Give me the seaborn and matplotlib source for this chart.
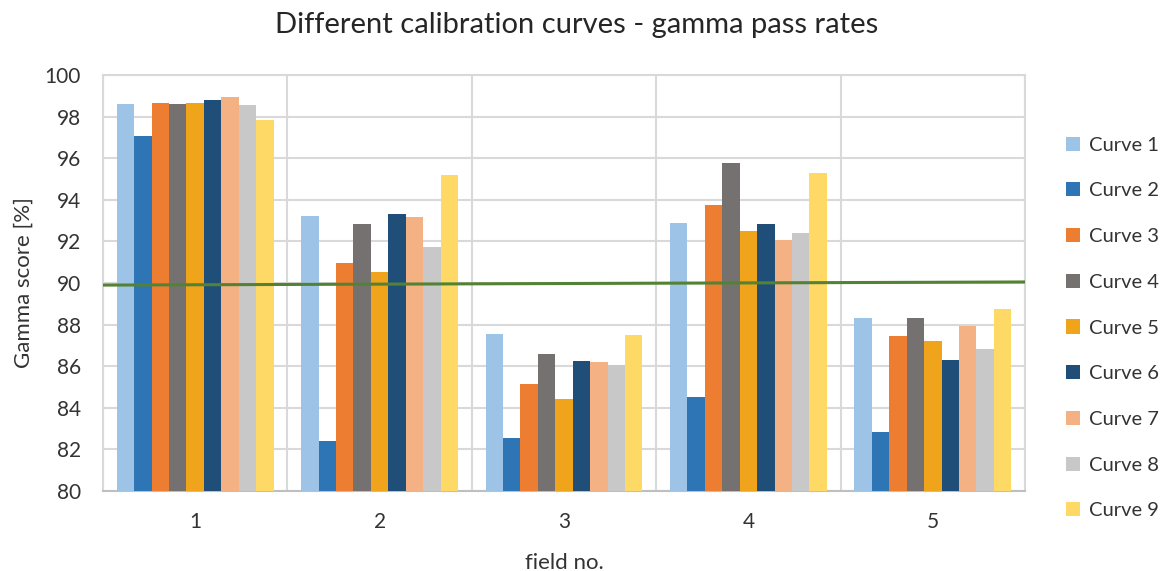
import numpy as np
import pandas as pd
import matplotlib
matplotlib.use("Agg")
import matplotlib.pyplot as plt
import seaborn as sns
from matplotlib.patches import Patch

fields = ["1", "2", "3", "4", "5"]
curves = [f"Curve {i}" for i in range(1, 10)]
curve1 = [98.6, 93.2, 87.55, 92.9, 88.3]
curve2 = [97.05, 82.4, 82.55, 84.5, 82.85]
curve3 = [98.65, 90.95, 85.15, 93.75, 87.45]
curve4 = [98.6, 92.85, 86.6, 95.75, 88.3]
curve5 = [98.65, 90.55, 84.4, 92.5, 87.2]
curve6 = [98.8, 93.3, 86.25, 92.85, 86.3]
curve7 = [98.95, 93.15, 86.2, 92.05, 87.95]
curve8 = [98.55, 91.75, 86.05, 92.4, 86.85]
curve9 = [97.85, 95.2, 87.5, 95.3, 88.75]
threshold_ends = [89.9, 90.05]
yticks = list(range(80, 101, 2))

series = [curve1, curve2, curve3, curve4, curve5, curve6, curve7, curve8, curve9]
rows = []
for c, vals in zip(curves, series):
    for f, v in zip(fields, vals):
        rows.append({"field": f, "curve": c, "score": v})
df = pd.DataFrame(rows)

colors = ["#9DC3E6", "#2E75B6", "#ED7D31", "#767171", "#EFA41B",
          "#1F4E79", "#F4B183", "#C8C8C8", "#FFD966"]

sns.set_style("white")
plt.rcParams["font.family"] = ["Lato", "DejaVu Sans"]

fig = plt.figure(figsize=(11.66, 5.71), dpi=100)
ax = fig.add_axes([103/1166, 1-491/571, (1025-103)/1166, (491-75)/571])

sns.barplot(data=df, x="field", y="score", hue="curve", palette=colors,
            width=0.85, saturation=1, ax=ax, legend=False, errorbar=None,
            linewidth=0, zorder=3)

ax.set_ylim(80, 100)
ax.set_xlim(-0.5, 4.5)
ax.set_yticks(yticks)
ax.set_yticklabels([str(t) for t in yticks], fontsize=15, color="#333333")
ax.tick_params(axis="x", labelsize=15, colors="#333333", length=0, pad=15)
ax.tick_params(axis="y", length=0, pad=16)
ax.set_xticks(range(5))
ax.set_xticks(np.arange(-0.5, 5, 1), minor=True)
ax.grid(True, axis="y", which="major", color="#D9D9D9", linewidth=1.5, zorder=0)
ax.grid(True, axis="x", which="minor", color="#D9D9D9", linewidth=1.5, zorder=0)
ax.tick_params(axis="x", which="minor", length=0)
ax.set_axisbelow(True)
for s in ax.spines.values():
    s.set_color("#D9D9D9")
    s.set_linewidth(1.5)
ax.spines["bottom"].set_color("#BFBFBF")

ax.plot([-0.5, 4.5], threshold_ends, color="#548235", linewidth=2.2, zorder=5)

ax.set_xlabel("field no.", fontsize=16, color="#333333", labelpad=15)
ax.set_ylabel("Gamma score [%]", fontsize=16, color="#333333", labelpad=8)
fig.text(577/1166, 1-25/571, "Different calibration curves - gamma pass rates",
         ha="center", va="center", fontsize=21, color="#262626")

handles = [Patch(facecolor=c, edgecolor="none") for c in colors]
fig.legend(handles, curves, loc="center left", bbox_to_anchor=(1066/1166, 1-328/571),
           frameon=False, fontsize=14.5, labelcolor="#333333", handlelength=0.7,
           handleheight=0.7, handletextpad=0.42, labelspacing=1.42,
           borderaxespad=0, borderpad=0)

fig.savefig("out.png", dpi=100)
